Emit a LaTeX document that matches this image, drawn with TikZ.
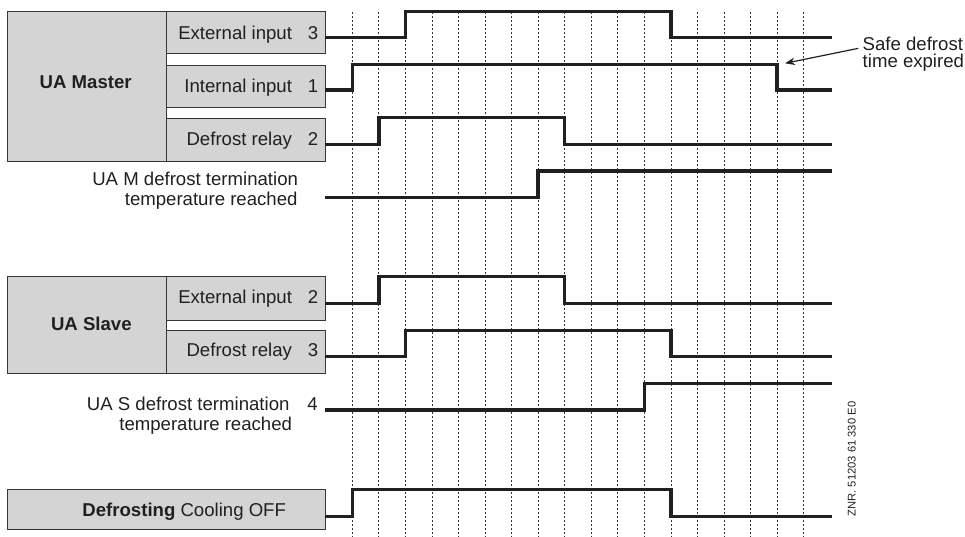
\documentclass[tikz,border=0pt]{standalone}
\usepackage{fontspec}
\setmainfont{Liberation Sans}
\usetikzlibrary{arrows.meta,calc}
\definecolor{boxgray}{RGB}{212,212,213}
\definecolor{ink}{RGB}{35,31,32}
\newcommand\lblfont{\fontsize{18.6}{20}\selectfont}
\begin{document}
\begin{tikzpicture}[x=1pt,y=-1pt,
  every node/.style={inner sep=0pt, outer sep=0pt},
  box/.style={draw=ink!90, line width=0.8pt, fill=boxgray, anchor=north west},
  lbl/.style={font=\lblfont, text=ink, anchor=base east},
  num/.style={font=\lblfont, text=ink, anchor=base},
  headlbl/.style={font=\lblfont\bfseries, text=ink, anchor=base east},
  sig/.style={line width=3.5pt, draw=ink, line join=miter},
  gridline/.style={draw=black!80, line width=0.8pt, dash pattern=on 2pt off 2pt}
]
\useasboundingbox (0,0) rectangle (965,536);

% time grid
\foreach \k in {0,...,17}
  \draw[gridline] ({352.3+26.55*\k},11.7) -- ({352.3+26.55*\k},536);

% ---------- UA Master ----------
\node[box, minimum width=159.7pt, minimum height=149.3pt] (master) at (7,11.7) {};
\node[box, minimum width=158.3pt, minimum height=42pt] (mext) at (166.7,11.7) {};
\node[box, minimum width=158.3pt, minimum height=42.3pt] (mint) at (166.7,65) {};
\node[box, minimum width=158.3pt, minimum height=42.7pt] (mrel) at (166.7,118.3) {};
\node[headlbl] (mtitle) at (131.7,88.3) {UA Master};
\node[lbl] (mextt) at (292,39.3) {External input};
\node[num] (mextn) at (313,39.3) {3};
\node[lbl] (mintt) at (292,92.7) {Internal input};
\node[num] (mintn) at (313,92.7) {1};
\node[lbl] (mrelt) at (292,145.7) {Defrost relay};
\node[num] (mreln) at (313,145.7) {2};
\node[lbl] (mterm1) at (298,185.7) {UA M defrost termination};
\node[lbl] (mterm2) at (297.5,205.7) {temperature reached};

% master signals
\draw[sig] (325,37.7) -- (405.4,37.7) -- (405.4,11.7) -- (670.9,11.7) -- (670.9,37.7) -- (831.7,37.7);
\draw[sig] (325,90.2) -- (352.3,90.2) -- (352.3,64.3) -- (777.1,64.3) -- (777.1,90.2) -- (831.7,90.2);
\draw[sig] (325,144.3) -- (378.85,144.3) -- (378.85,117.3) -- (564.7,117.3) -- (564.7,144.3) -- (831.7,144.3);
\draw[sig] (325,197.3) -- (538.15,197.3) -- (538.15,171) -- (831.7,171);

% annotation
\node[font=\lblfont, text=ink, anchor=base west] (safe1) at (862.7,50.7) {Safe defrost};
\node[font=\lblfont, text=ink, anchor=base west] (safe2) at (862.7,67.7) {time expired};
\coordinate (tip) at (785,63.3);
\draw[ink, line width=1.2pt, -{Stealth[length=10pt,width=7.5pt]}] ($(safe1.west)+(-4.4,4.3)$) -- (tip);

% ---------- UA Slave ----------
\node[box, minimum width=159.7pt, minimum height=96.6pt] (slave) at (7,276.7) {};
\node[box, minimum width=158.3pt, minimum height=43.3pt] (sext) at (166.7,276.7) {};
\node[box, minimum width=158.3pt, minimum height=43pt] (srel) at (166.7,330.3) {};
\node[headlbl] (stitle) at (131.7,330) {UA Slave};
\node[lbl] (sextt) at (292,303.3) {External input};
\node[num] (sextn) at (313,303.3) {2};
\node[lbl] (srelt) at (292,356.7) {Defrost relay};
\node[num] (sreln) at (313,356.7) {3};
\node[lbl] (sterm1) at (289.5,410.7) {UA S defrost termination};
\node[num] (stermn) at (312.5,410.7) {4};
\node[lbl] (sterm2) at (292,430.7) {temperature reached};

% slave signals
\draw[sig] (325,303.3) -- (378.85,303.3) -- (378.85,276.7) -- (564.7,276.7) -- (564.7,303.5) -- (831.7,303.5);
\draw[sig] (325,356.7) -- (405.4,356.7) -- (405.4,330.3) -- (670.9,330.3) -- (670.9,356.7) -- (831.7,356.7);
\draw[sig] (325,410) -- (644.35,410) -- (644.35,383.3) -- (831.7,383.3);

% ---------- Defrosting ----------
\node[box, minimum width=318pt, minimum height=39.7pt] (defr) at (7,489.3) {};
\node[lbl] (defrt) at (286,516) {\textbf{Defrosting} Cooling OFF};
\draw[sig] (325,516.7) -- (352.3,516.7) -- (352.3,489.3) -- (670.9,489.3) -- (670.9,516.7) -- (831.7,516.7);

% drawing number
\node[font=\fontsize{11.2}{12}\selectfont, text=ink, rotate=90] (znr) at (851.7,459) {ZNR. 51203 61 330 E0};
\end{tikzpicture}
\end{document}
